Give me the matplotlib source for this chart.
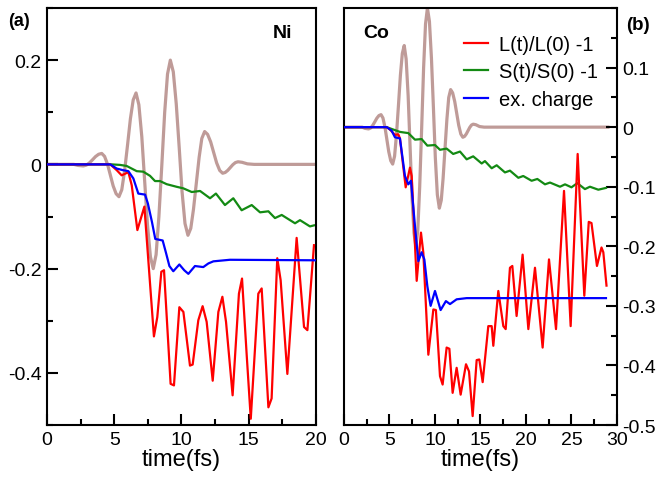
#!/usr/bin/env python3
"""
Two-panel plot: L(t)/L(0)-1, S(t)/S(0)-1 and excited charge for Ni and Co,
with the laser pulse drawn behind.
"""

import matplotlib
matplotlib.use("Agg")
import matplotlib.pyplot as plt
from matplotlib.ticker import MultipleLocator

plt.rcParams['font.family'] = ['Liberation Sans', 'DejaVu Sans']
plt.rcParams['axes.unicode_minus'] = False

# Laser pulse (same in both panels)
pulse_t = [0, 2.0, 2.3, 2.70, 2.93, 3.16, 3.39, 3.61, 3.84, 4.07, 4.28, 4.50, 4.71,
           4.92, 5.14, 5.35, 5.56, 5.77, 5.99, 6.20, 6.41, 6.62, 6.83, 7.05, 7.26,
           7.47, 7.69, 7.90, 8.11, 8.32, 8.54, 8.75, 8.96, 9.17, 9.39, 9.61, 9.83,
           10.04, 10.26, 10.48, 10.69, 10.89, 11.10, 11.31, 11.51, 11.72, 11.94,
           12.17, 12.39, 12.61, 12.84, 13.06, 13.25, 13.44, 13.63, 13.82, 14.01,
           14.2, 14.5, 14.9, 15.4, 29.0]
pulse_v = [0, 0, -0.002, -0.003, -0.0014, 0.003, 0.009, 0.015, 0.0194, 0.021, 0.0154,
           0.0003, -0.0205, -0.0413, -0.0564, -0.062, -0.0487, -0.0123, 0.0375,
           0.0873, 0.1237, 0.137, 0.1144, 0.0528, -0.0315, -0.1158, -0.1774, -0.200,
           -0.1732, -0.1, 0.0, 0.1, 0.1732, 0.200, 0.1775, 0.116, 0.032, -0.052,
           -0.1135, -0.136, -0.1227, -0.0863, -0.0365, 0.0133, 0.0497, 0.063, 0.0576,
           0.043, 0.023, 0.003, -0.0116, -0.017, -0.0155, -0.0115, -0.006, -0.0005,
           0.0035, 0.005, 0.004, 0.001, 0.0, 0.0]

# ---- Ni ----
ni_L_t = [0, 4.7, 5.18, 5.55, 6.05, 6.3, 6.72, 7.24, 7.95, 8.2, 8.5, 8.7, 9.19, 9.44,
          9.84, 10.14, 10.63, 10.83, 11.25, 11.57, 11.87, 12.32, 12.74, 13.04, 13.31,
          13.8, 14.27, 14.5, 14.85, 15.15, 15.71, 15.96, 16.46, 16.7, 17.12, 17.37,
          17.87, 18.56, 19.11, 19.36, 19.85]
ni_L_v = [0, 0, -0.011, -0.021, -0.015, -0.04, -0.126, -0.081, -0.33, -0.293, -0.206,
          -0.203, -0.421, -0.424, -0.274, -0.283, -0.386, -0.384, -0.299, -0.272,
          -0.302, -0.415, -0.283, -0.254, -0.302, -0.443, -0.248, -0.219, -0.367,
          -0.488, -0.248, -0.238, -0.466, -0.449, -0.18, -0.222, -0.402, -0.141,
          -0.312, -0.318, -0.155]

ni_S_t = [0, 4.8, 5.43, 5.92, 6.67, 7.16, 7.66, 8.03, 8.4, 8.9, 9.64, 10.14, 10.76,
          11.38, 12.12, 12.56, 13.23, 13.85, 14.47, 15.22, 15.84, 16.46, 16.95, 17.45,
          18.44, 18.81, 19.55, 19.85]
ni_S_v = [0, 0, -0.001, -0.003, -0.013, -0.014, -0.022, -0.032, -0.032, -0.038,
          -0.043, -0.046, -0.053, -0.051, -0.065, -0.056, -0.078, -0.065, -0.088,
          -0.078, -0.092, -0.09, -0.103, -0.097, -0.113, -0.107, -0.119, -0.117]

ni_Q_t = [0, 4.7, 5.18, 5.63, 6.05, 6.42, 6.79, 7.29, 7.5, 7.8, 8.05, 8.6, 8.85, 9.1,
          9.39, 9.84, 10.2, 10.51, 11.0, 11.62, 12.0, 12.37, 13.6, 20.0]
ni_Q_v = [0, 0, -0.008, -0.011, -0.013, -0.027, -0.056, -0.058, -0.075, -0.11, -0.143,
          -0.146, -0.17, -0.195, -0.205, -0.192, -0.203, -0.21, -0.195, -0.197, -0.19,
          -0.186, -0.183, -0.184]

# ---- Co ----
co_L_t = [0, 4.7, 5.05, 5.6, 5.97, 6.15, 6.78, 7.25, 7.44, 7.99, 8.46, 8.72, 9.27,
          9.82, 10.1, 10.55, 10.84, 11.28, 11.58, 11.94, 12.38, 12.82, 13.41, 13.74,
          14.14, 14.58, 14.87, 15.24, 15.86, 16.23, 16.41, 16.96, 17.51, 17.77, 18.24,
          18.5, 18.97, 19.63, 20.26, 20.99, 21.83, 22.53, 23.3, 24.18, 24.91, 25.68,
          26.41, 26.9, 27.2, 27.8, 28.3, 28.5, 28.85]
co_L_v = [0, 0, -0.004, -0.013, -0.012, -0.019, -0.101, -0.068, -0.082, -0.258,
          -0.177, -0.211, -0.382, -0.306, -0.307, -0.418, -0.432, -0.37, -0.372,
          -0.446, -0.404, -0.449, -0.398, -0.41, -0.485, -0.391, -0.39, -0.428,
          -0.334, -0.334, -0.367, -0.275, -0.334, -0.339, -0.236, -0.233, -0.317,
          -0.214, -0.339, -0.236, -0.37, -0.222, -0.339, -0.107, -0.334, -0.045,
          -0.283, -0.159, -0.161, -0.233, -0.202, -0.21, -0.266]

co_S_t = [0, 4.7, 5.05, 6.15, 7.07, 7.8, 8.53, 9.16, 10.0, 10.55, 11.28, 12.0, 12.75,
          13.48, 14.2, 15.13, 15.49, 16.23, 16.78, 17.69, 18.24, 19.16, 19.7, 20.62,
          21.25, 22.09, 22.64, 23.74, 24.29, 25.0, 25.64, 26.48, 27.03, 27.95, 28.79]
co_S_v = [0, 0, -0.002, -0.008, -0.01, -0.021, -0.02, -0.031, -0.03, -0.038, -0.036,
          -0.045, -0.041, -0.054, -0.049, -0.061, -0.057, -0.069, -0.064, -0.076,
          -0.073, -0.085, -0.082, -0.09, -0.087, -0.096, -0.093, -0.1, -0.096,
          -0.101, -0.094, -0.104, -0.1, -0.105, -0.102]

co_Q_t = [0, 4.7, 5.24, 5.6, 6.15, 6.7, 7.07, 7.36, 7.8, 8.17, 8.53, 8.83, 9.16, 9.52,
          10.0, 10.62, 11.2, 11.65, 12.38, 13.48, 16.04, 28.79]
co_Q_v = [0, 0, -0.006, -0.017, -0.019, -0.082, -0.096, -0.09, -0.166, -0.225, -0.21,
          -0.222, -0.267, -0.3, -0.275, -0.307, -0.292, -0.297, -0.289, -0.287,
          -0.287, -0.287]

C_PULSE = '#bf9b98'
C_L = '#ff0000'
C_S = '#138a13'
C_Q = '#0000ff'


def style_axis(ax, side):
    for sp in ax.spines.values():
        sp.set_linewidth(1.5)
    ax.tick_params(which='both', direction='in', width=1.5, labelsize=14,
                   top=False, bottom=True, left=(side == 'left'),
                   right=(side == 'right'), pad=4)
    ax.tick_params(which='major', length=8)
    ax.tick_params(which='minor', length=4)
    ax.xaxis.set_major_locator(MultipleLocator(5))
    ax.xaxis.set_minor_locator(MultipleLocator(2.5))
    ax.set_xlabel('time(fs)', fontsize=17, labelpad=0)


fig = plt.figure(figsize=(6.6, 4.81), dpi=100)
ax1 = fig.add_axes([0.0712, 0.1143, 0.4076, 0.867])
ax2 = fig.add_axes([0.5212, 0.1143, 0.4136, 0.867])

# panel (a): Ni
ax1.plot(pulse_t, pulse_v, color=C_PULSE, lw=2.3, zorder=1)
ax1.plot(ni_S_t, ni_S_v, color=C_S, lw=1.6, zorder=2)
ax1.plot(ni_L_t, ni_L_v, color=C_L, lw=1.6, zorder=3)
ax1.plot(ni_Q_t, ni_Q_v, color=C_Q, lw=1.6, zorder=4)
ax1.set_xlim(0, 20)
ax1.set_ylim(-0.5, 0.3)
ax1.set_yticks([-0.4, -0.2, 0, 0.2])
ax1.set_yticklabels(['-0.4', '-0.2', '0', '0.2'])
ax1.yaxis.set_minor_locator(MultipleLocator(0.1))
style_axis(ax1, 'left')
ax1.text(0.877, 0.942, 'Ni', transform=ax1.transAxes, fontsize=14,
         fontweight='bold', ha='center', va='center')

# panel (b): Co
ax2.plot(pulse_t, pulse_v, color=C_PULSE, lw=2.3, zorder=1)
ax2.plot(co_L_t, co_L_v, color=C_L, lw=1.6, zorder=3, label='L(t)/L(0) -1')
ax2.plot(co_S_t, co_S_v, color=C_S, lw=1.6, zorder=2, label='S(t)/S(0) -1')
ax2.plot(co_Q_t, co_Q_v, color=C_Q, lw=1.6, zorder=4, label='ex. charge')
ax2.set_xlim(0, 30)
ax2.set_ylim(-0.5, 0.2)
ax2.yaxis.tick_right()
ax2.set_yticks([-0.5, -0.4, -0.3, -0.2, -0.1, 0, 0.1])
ax2.set_yticklabels(['-0.5', '-0.4', '-0.3', '-0.2', '-0.1', '0', '0.1'])
ax2.yaxis.set_minor_locator(MultipleLocator(0.05))
style_axis(ax2, 'right')
ax2.text(0.117, 0.942, 'Co', transform=ax2.transAxes, fontsize=14,
         fontweight='bold', ha='center', va='center')
ax2.legend(loc='upper right', bbox_to_anchor=(0.974, 0.965), frameon=False,
           fontsize=14.5, handlelength=1.2, handletextpad=0.55, labelspacing=0.42,
           borderaxespad=0.2)

fig.text(0.012, 0.955, '(a)', fontsize=13, fontweight='bold', va='center')
fig.text(0.949, 0.948, '(b)', fontsize=13.5, fontweight='bold', va='center')

fig.savefig('out.png', dpi=100)
